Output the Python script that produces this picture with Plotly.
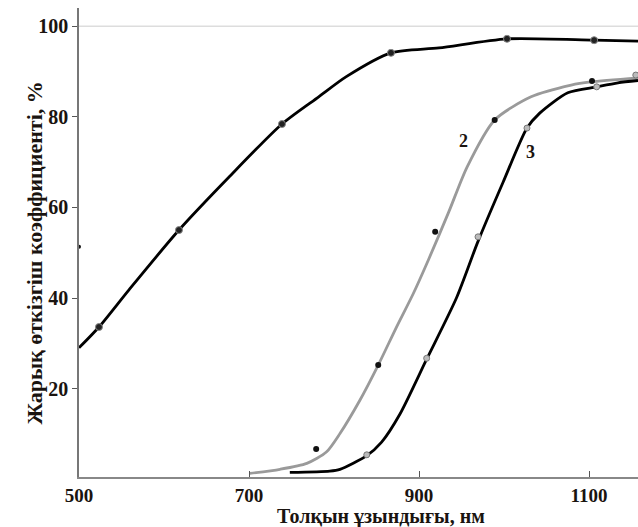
import plotly.graph_objects as go

# Curve 1 (black)
c1_x = [500, 523.5, 558.8, 617.6, 676.5, 738.8, 782, 814, 867, 923.5, 1003.5, 1106, 1157.6]
c1_y = [29, 33.6, 41.8, 55, 66.7, 78.4, 84.4, 88.8, 94.1, 95.2, 97.2, 96.9, 96.7]
c1_mx = [523.5, 617.6, 738.8, 867, 1003.5, 1106]
c1_my = [33.6, 55, 78.4, 94.1, 97.2, 96.9]

# Curve 2 (gray)
c2_x = [701, 736.5, 768, 791, 807, 830.6, 852, 873.8, 893.3, 911, 935, 956.5, 989, 1031.8, 1079, 1102, 1157.6]
c2_y = [1.3, 2.2, 3.5, 6, 10.1, 17.5, 25.2, 33.7, 41, 48.4, 59, 68.9, 79.3, 84.4, 87, 87.7, 88.6]
c2_mx = [779, 852, 919, 989, 1103.5]
c2_my = [6.7, 25.2, 54.6, 79.3, 87.9]

# Curve 3 (black)
c3_x = [748, 795, 807, 838.5, 856, 877.6, 909, 944, 969.4, 999, 1027, 1042, 1075, 1109, 1134, 1157.6]
c3_y = [1.5, 1.8, 2.2, 5.2, 8.2, 14.4, 26.5, 40, 52.5, 65.6, 77.5, 80.8, 85.3, 86.6, 87.5, 88]
c3_mx = [838.5, 909, 969.4, 1027, 1109, 1155]
c3_my = [5.4, 26.7, 53.5, 77.5, 86.6, 89.2]

stray_x = [500]
stray_y = [51.3]

x_ticks = [500, 700, 900, 1100]
y_ticks = [20, 40, 60, 80, 100]

serif = "Liberation Serif"
txt = "#1a1410"

fig = go.Figure()
fig.add_trace(go.Scatter(x=c1_x, y=c1_y, mode="lines",
                         line=dict(color="black", width=2.8, shape="spline", smoothing=0.7)))
fig.add_trace(go.Scatter(x=c2_x, y=c2_y, mode="lines",
                         line=dict(color="#9a9a9a", width=2.8, shape="spline", smoothing=0.7)))
fig.add_trace(go.Scatter(x=c3_x, y=c3_y, mode="lines",
                         line=dict(color="black", width=2.8, shape="spline", smoothing=0.7)))
fig.add_trace(go.Scatter(x=c1_mx, y=c1_my, mode="markers",
                         marker=dict(color="#222", size=7, line=dict(color="#888", width=1))))
fig.add_trace(go.Scatter(x=c2_mx, y=c2_my, mode="markers",
                         marker=dict(color="#111", size=6)))
fig.add_trace(go.Scatter(x=c3_mx, y=c3_my, mode="markers",
                         marker=dict(color="#bbb", size=6, line=dict(color="#777", width=1))))
fig.add_trace(go.Scatter(x=stray_x, y=stray_y, mode="markers",
                         marker=dict(color="#111", size=4), cliponaxis=False))

fig.add_shape(type="line", xref="paper", yref="y", x0=0, x1=1, y0=100, y1=100,
              line=dict(color="#dddddd", width=1.5), layer="below")

fig.add_annotation(x=951.8, y=74.7, text="<b>2</b>", showarrow=False,
                   font=dict(family=serif, size=18, color=txt))
fig.add_annotation(x=1030.6, y=72.2, text="<b>3</b>", showarrow=False,
                   font=dict(family=serif, size=18, color=txt))

fig.add_annotation(xref="paper", yref="paper", x=(381 - 79) / 559, y=0,
                   yshift=-26, yanchor="top", showarrow=False,
                   text="<b>Толқын ұзындығы, нм</b>",
                   font=dict(family=serif, size=20, color=txt))
fig.add_annotation(xref="paper", yref="paper", x=0, xshift=-59, y=(469 - (253 - 8)) / 469,
                   textangle=-90, showarrow=False,
                   text="<b>Жарық өткізгіш коэффициенті, %</b>",
                   font=dict(family=serif, size=22, color=txt))

fig.update_layout(
    width=638, height=527,
    margin=dict(l=79, r=0, t=8, b=50),
    paper_bgcolor="white", plot_bgcolor="white",
    showlegend=False,
    font=dict(family=serif, size=20, color=txt),
    xaxis=dict(range=[500, 1157.6], tickvals=x_ticks,
               ticktext=[f"<b>{v}</b>" for v in x_ticks],
               tickfont=dict(family=serif, size=19, color=txt),
               showgrid=False, zeroline=False, showline=True, linecolor="#888", linewidth=1.5,
               ticks="inside", ticklen=6, tickcolor="#555"),
    yaxis=dict(range=[0.5, 104], tickvals=y_ticks,
               ticktext=[f"<b>{v}</b>" for v in y_ticks],
               showgrid=False, zeroline=False, showline=True, linecolor="#777", linewidth=1.5,
               ticks="outside", ticklen=5, tickcolor="#555"),
)

fig.write_html("out.html", config={"displayModeBar": False},
               post_script="document.body.style.margin='0px';document.body.style.overflow='hidden';")
